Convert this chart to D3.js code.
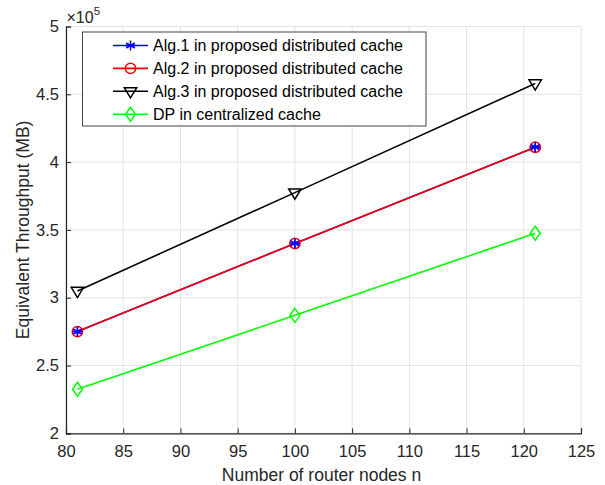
<!DOCTYPE html>
<html>
<head>
<meta charset="utf-8">
<script src="https://cdn.jsdelivr.net/npm/d3@7"></script>
<style>
  html, body { margin: 0; padding: 0; background: #fff; }
  svg { display: block; font-family: "Liberation Sans", Arial, Helvetica, sans-serif; }
</style>
</head>
<body>
<svg id="chart" width="605" height="485"></svg>
<script>
// Router node counts on the x axis
const nodes = [81, 100, 121];

// Equivalent throughput (MB), in units of 1e5
const alg1 = [2.75, 3.40, 4.11];
const alg2 = [2.75, 3.40, 4.11];
const alg3 = [3.05, 3.775, 4.58];
const dpCentral = [2.325, 2.87, 3.475];

const xTicks = [80, 85, 90, 95, 100, 105, 110, 115, 120, 125];
const yTicks = [2, 2.5, 3, 3.5, 4, 4.5, 5];

const seriesNames = [
  "Alg.1 in proposed distributed cache",
  "Alg.2 in proposed distributed cache",
  "Alg.3 in proposed distributed cache",
  "DP in centralized cache"
];

const series = [
  { name: seriesNames[0], values: alg1, color: "#0000ff", marker: "star" },
  { name: seriesNames[1], values: alg2, color: "#ff0000", marker: "circle" },
  { name: seriesNames[2], values: alg3, color: "#000000", marker: "triangleDown" },
  { name: seriesNames[3], values: dpCentral, color: "#00ff00", marker: "diamond" }
];

const svg = d3.select("#chart");
const m = { left: 66, right: 581, top: 26.5, bottom: 433.3 };

const x = d3.scaleLinear().domain([80, 125]).range([m.left, m.right]);
const y = d3.scaleLinear().domain([2, 5]).range([m.bottom, m.top]);

const axisColor = "#262626";
const gridColor = "#e3e3e3";

// grid
const grid = svg.append("g");
grid.selectAll("line.gx").data(xTicks).join("line")
  .attr("x1", d => x(d)).attr("x2", d => x(d))
  .attr("y1", m.top).attr("y2", m.bottom)
  .attr("stroke", gridColor).attr("stroke-width", 1);
grid.selectAll("line.gy").data(yTicks).join("line")
  .attr("x1", m.left).attr("x2", m.right)
  .attr("y1", d => y(d)).attr("y2", d => y(d))
  .attr("stroke", gridColor).attr("stroke-width", 1);

// axes (ticks point inward)
const xAxis = svg.append("g")
  .attr("transform", `translate(0,${m.bottom})`)
  .call(d3.axisBottom(x).tickValues(xTicks).tickSize(-5).tickPadding(11.5).tickFormat(d3.format("d")));
const yAxis = svg.append("g")
  .attr("transform", `translate(${m.left},0)`)
  .call(d3.axisLeft(y).tickValues(yTicks).tickSize(-5).tickPadding(7).tickFormat(d => String(d)));

[xAxis, yAxis].forEach(a => {
  a.select(".domain").attr("stroke", axisColor).attr("stroke-width", 1.2);
  a.selectAll(".tick line").attr("stroke", axisColor).attr("stroke-width", 1);
  a.selectAll(".tick text").attr("fill", axisColor).attr("font-size", 16.5)
    .attr("font-family", "Liberation Sans, Arial, sans-serif");
});

// exponent label
const expo = svg.append("text")
  .attr("x", m.left + 0.5).attr("y", 22.7)
  .attr("fill", axisColor).attr("font-size", 16);
expo.append("tspan").text("\u00d710");
expo.append("tspan").attr("dy", -7.5).attr("font-size", 11.5).text("5");

// axis titles
svg.append("text")
  .attr("x", (m.left + m.right) / 2 - 2).attr("y", 480.5)
  .attr("text-anchor", "middle").attr("fill", axisColor).attr("font-size", 17.5)
  .text("Number of router nodes n");
svg.append("text")
  .attr("transform", `translate(28.5,${(m.top + m.bottom) / 2}) rotate(-90)`)
  .attr("text-anchor", "middle").attr("fill", axisColor).attr("font-size", 17.5)
  .text("Equivalent Throughput (MB)");

// marker drawing
function drawMarker(g, type, color, cx, cy) {
  if (type === "circle") {
    g.append("circle").attr("cx", cx).attr("cy", cy).attr("r", 5.2)
      .attr("fill", "none").attr("stroke", color).attr("stroke-width", 1.5);
  } else if (type === "star") {
    const r = 5;
    const p = [];
    for (let k = 0; k < 3; k++) {
      const a = k * Math.PI / 3 + Math.PI / 2;
      p.push(`M${cx + r * Math.cos(a)},${cy + r * Math.sin(a)}L${cx - r * Math.cos(a)},${cy - r * Math.sin(a)}`);
    }
    p.push(`M${cx - r},${cy}L${cx + r},${cy}`);
    g.append("path").attr("d", p.join("")).attr("stroke", color).attr("stroke-width", 1.5).attr("fill", "none");
  } else if (type === "triangleDown") {
    const w = 6.2, h = 6;
    g.append("path")
      .attr("d", `M${cx - w},${cy - h * 0.6}L${cx + w},${cy - h * 0.6}L${cx},${cy + h * 1.1}Z`)
      .attr("fill", "none").attr("stroke", color).attr("stroke-width", 1.5);
  } else if (type === "diamond") {
    const w = 5, h = 7;
    g.append("path")
      .attr("d", `M${cx},${cy - h}L${cx + w},${cy}L${cx},${cy + h}L${cx - w},${cy}Z`)
      .attr("fill", "none").attr("stroke", color).attr("stroke-width", 1.5);
  }
}

// series lines and markers
const line = d3.line().x((d, i) => x(nodes[i])).y(d => y(d));
series.forEach(s => {
  const g = svg.append("g");
  g.append("path").datum(s.values).attr("d", line)
    .attr("fill", "none").attr("stroke", s.color).attr("stroke-width", 1.6);
  s.values.forEach((v, i) => drawMarker(g, s.marker, s.color, x(nodes[i]), y(v)));
});
// keep Alg.1 stars visible inside the Alg.2 circles
svg.append("g").call(g => alg1.forEach((v, i) => drawMarker(g, "star", "#0000ff", x(nodes[i]), y(v))));

// legend
const lg = svg.append("g");
lg.append("rect").attr("x", 82.5).attr("y", 32).attr("width", 343.5).attr("height", 94)
  .attr("fill", "#fff").attr("stroke", "#444").attr("stroke-width", 1);
series.forEach((s, i) => {
  const yy = 45.5 + i * 22.9;
  lg.append("line").attr("x1", 113).attr("x2", 148).attr("y1", yy).attr("y2", yy)
    .attr("stroke", s.color).attr("stroke-width", 1.6);
  drawMarker(lg, s.marker, s.color, 130.5, yy);
  lg.append("text").attr("x", 153).attr("y", yy + 5.6)
    .attr("fill", "#000").attr("font-size", 16).text(s.name);
});
</script>
</body>
</html>
